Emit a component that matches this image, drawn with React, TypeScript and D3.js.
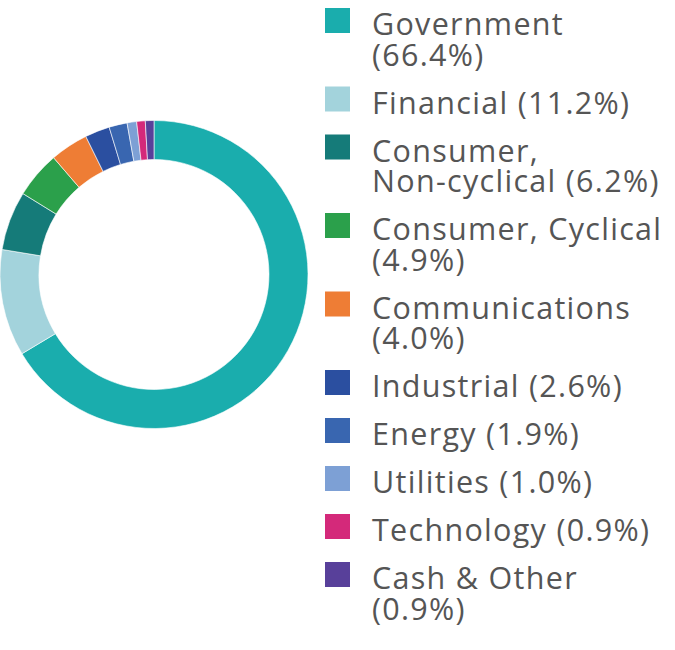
import React from "react";
import * as d3 from "d3";

const categories = [
  "Government",
  "Financial",
  "Consumer, Non-cyclical",
  "Consumer, Cyclical",
  "Communications",
  "Industrial",
  "Energy",
  "Utilities",
  "Technology",
  "Cash & Other",
];
const values = [66.4, 11.2, 6.2, 4.9, 4.0, 2.6, 1.9, 1.0, 0.9, 0.9];
const legendLines = [
  ["Government", "(66.4%)"],
  ["Financial (11.2%)"],
  ["Consumer,", "Non-cyclical (6.2%)"],
  ["Consumer, Cyclical", "(4.9%)"],
  ["Communications", "(4.0%)"],
  ["Industrial (2.6%)"],
  ["Energy (1.9%)"],
  ["Utilities (1.0%)"],
  ["Technology (0.9%)"],
  ["Cash & Other", "(0.9%)"],
];
const colors = [
  "#1AADAD",
  "#A3D3DC",
  "#157B79",
  "#2BA04B",
  "#EE7D35",
  "#2B4FA0",
  "#3966B0",
  "#7DA0D5",
  "#D4297A",
  "#58409A",
];

const W = 675;
const H = 650;
const cx = 154;
const cy = 274.5;
const outerR = 154;
const innerR = 115;

const legendX = 325;
const textX = 372;
const firstBaseline = 35;
const lineH = 30.5;
const itemStep = 48;
const swatch = 25;

export default function App() {
  const data = categories.map((c, i) => ({ name: c, value: values[i], color: colors[i] }));
  const pie = d3.pie<any>().value((d: any) => d.value).sort(null);
  const arc = d3.arc<any>().innerRadius(innerR).outerRadius(outerR);
  const arcs = pie(data);

  let y = firstBaseline;
  const legendItems = legendLines.map((lines, i) => {
    const base = y;
    y += itemStep + (lines.length - 1) * lineH;
    return { lines, base, color: colors[i] };
  });

  return (
    <svg
      width={W}
      height={H}
      style={{ position: "absolute", left: 0, top: 0, background: "#fff" }}
      fontFamily="'Open Sans', sans-serif"
    >
      <g transform={`translate(${cx},${cy})`}>
        {arcs.map((a, i) => (
          <path key={i} d={arc(a) as string} fill={a.data.color} stroke="#ffffff" strokeWidth={0.6} />
        ))}
      </g>
      {legendItems.map((it, i) => (
        <g key={i}>
          <rect x={legendX} y={it.base - 27} width={swatch} height={swatch} fill={it.color} />
          {it.lines.map((l, j) => (
            <text
              key={j}
              x={textX}
              y={it.base + j * lineH}
              fontSize={30.5}
              fill="#555555"
              letterSpacing={1.3}
            >
              {l}
            </text>
          ))}
        </g>
      ))}
    </svg>
  );
}
